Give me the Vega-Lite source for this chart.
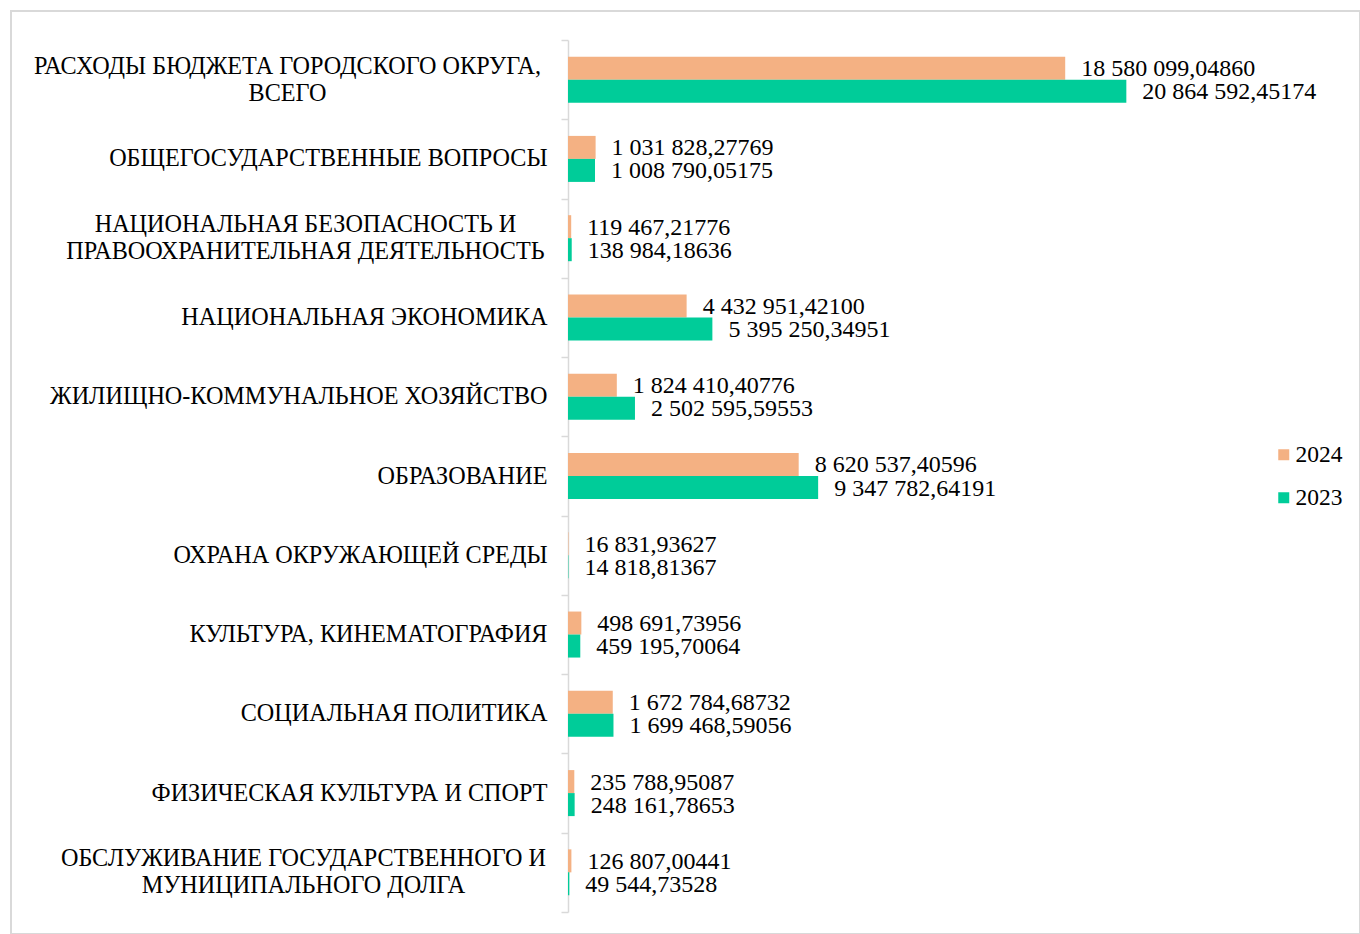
{
  "$schema": "https://vega.github.io/schema/vega-lite/v6.json",
  "width": 1349,
  "height": 923,
  "autosize": {"type": "none"},
  "padding": {"left": 11, "top": 11, "right": 0, "bottom": 0},
  "background": "#ffffff",
  "config": {
    "view": {"stroke": "#d9d9d9", "strokeWidth": 2},
    "locale": {"number": {"decimal": ",", "thousands": " ", "grouping": [3], "currency": ["", ""]}},
    "font": "Liberation Serif"
  },
  "data": {
    "values": [
      {"category": "РАСХОДЫ БЮДЖЕТА ГОРОДСКОГО ОКРУГА,|ВСЕГО", "year": "2024", "value": 18580099.04860},
      {"category": "РАСХОДЫ БЮДЖЕТА ГОРОДСКОГО ОКРУГА,|ВСЕГО", "year": "2023", "value": 20864592.45174},
      {"category": "ОБЩЕГОСУДАРСТВЕННЫЕ ВОПРОСЫ", "year": "2024", "value": 1031828.27769},
      {"category": "ОБЩЕГОСУДАРСТВЕННЫЕ ВОПРОСЫ", "year": "2023", "value": 1008790.05175},
      {"category": "НАЦИОНАЛЬНАЯ БЕЗОПАСНОСТЬ И|ПРАВООХРАНИТЕЛЬНАЯ ДЕЯТЕЛЬНОСТЬ", "year": "2024", "value": 119467.21776},
      {"category": "НАЦИОНАЛЬНАЯ БЕЗОПАСНОСТЬ И|ПРАВООХРАНИТЕЛЬНАЯ ДЕЯТЕЛЬНОСТЬ", "year": "2023", "value": 138984.18636},
      {"category": "НАЦИОНАЛЬНАЯ ЭКОНОМИКА", "year": "2024", "value": 4432951.42100},
      {"category": "НАЦИОНАЛЬНАЯ ЭКОНОМИКА", "year": "2023", "value": 5395250.34951},
      {"category": "ЖИЛИЩНО-КОММУНАЛЬНОЕ ХОЗЯЙСТВО", "year": "2024", "value": 1824410.40776},
      {"category": "ЖИЛИЩНО-КОММУНАЛЬНОЕ ХОЗЯЙСТВО", "year": "2023", "value": 2502595.59553},
      {"category": "ОБРАЗОВАНИЕ", "year": "2024", "value": 8620537.40596},
      {"category": "ОБРАЗОВАНИЕ", "year": "2023", "value": 9347782.64191},
      {"category": "ОХРАНА ОКРУЖАЮЩЕЙ СРЕДЫ", "year": "2024", "value": 16831.93627},
      {"category": "ОХРАНА ОКРУЖАЮЩЕЙ СРЕДЫ", "year": "2023", "value": 14818.81367},
      {"category": "КУЛЬТУРА, КИНЕМАТОГРАФИЯ", "year": "2024", "value": 498691.73956},
      {"category": "КУЛЬТУРА, КИНЕМАТОГРАФИЯ", "year": "2023", "value": 459195.70064},
      {"category": "СОЦИАЛЬНАЯ ПОЛИТИКА", "year": "2024", "value": 1672784.68732},
      {"category": "СОЦИАЛЬНАЯ ПОЛИТИКА", "year": "2023", "value": 1699468.59056},
      {"category": "ФИЗИЧЕСКАЯ КУЛЬТУРА И СПОРТ", "year": "2024", "value": 235788.95087},
      {"category": "ФИЗИЧЕСКАЯ КУЛЬТУРА И СПОРТ", "year": "2023", "value": 248161.78653},
      {"category": "ОБСЛУЖИВАНИЕ ГОСУДАРСТВЕННОГО И|МУНИЦИПАЛЬНОГО ДОЛГА", "year": "2024", "value": 126807.00441},
      {"category": "ОБСЛУЖИВАНИЕ ГОСУДАРСТВЕННОГО И|МУНИЦИПАЛЬНОГО ДОЛГА", "year": "2023", "value": 49544.73528}
    ]
  },
  "encoding": {
    "y": {
      "field": "category",
      "type": "nominal",
      "sort": null,
      "scale": {"range": [29, 901], "paddingInner": 0, "paddingOuter": 0},
      "axis": {
        "title": null,
        "offset": -557,
        "domainColor": "#d9d9d9",
        "domainWidth": 1.5,
        "tickColor": "#d9d9d9",
        "tickWidth": 1.5,
        "tickSize": 7,
        "tickBand": "extent",
        "labelFont": "Liberation Serif",
        "labelFontSize": 24.2,
        "labelColor": "#000000",
        "labelLimit": 0,
        "labelLineHeight": 27,
        "labelBaseline": "middle",
        "labelExpr": "isString(datum.value) ? split(datum.value, '|') : ''",
        "labelAlign": {
          "condition": {"test": "isString(datum.value) && indexof(datum.value, '|') >= 0", "value": "center"},
          "value": "right"
        },
        "labelOffset": {
          "condition": {"test": "isString(datum.value) && indexof(datum.value, '|') >= 0", "value": -13.5},
          "value": 0
        },
        "labelPadding": {"expr": "isString(datum.value) && indexof(datum.value, 'РАСХОДЫ') >= 0 ? 274 : isString(datum.value) && indexof(datum.value, 'БЕЗОПАСНОСТЬ') >= 0 ? 256 : isString(datum.value) && indexof(datum.value, 'ОБСЛУЖИВАНИЕ') >= 0 ? 258 : 14"}
      }
    },
    "yOffset": {
      "field": "year",
      "type": "nominal",
      "scale": {"domain": ["2024", "2023"], "paddingInner": 0, "paddingOuter": 0.723}
    },
    "x": {
      "field": "value",
      "type": "quantitative",
      "scale": {"domain": [0, 25000000], "range": [557, 1226], "nice": false},
      "axis": null
    }
  },
  "layer": [
    {
      "mark": {"type": "bar"},
      "encoding": {
        "color": {
          "field": "year",
          "type": "nominal",
          "scale": {"domain": ["2024", "2023"], "range": ["#F4B183", "#00CC99"]},
          "legend": {
            "title": null,
            "orient": "none",
            "legendX": 1261,
            "legendY": 432,
            "padding": 0,
            "symbolType": "square",
            "symbolSize": 121,
            "symbolStrokeWidth": 0,
            "labelFont": "Liberation Serif",
            "labelFontSize": 23.5,
            "labelColor": "#000000",
            "labelOffset": 0,
            "rowPadding": 18
          }
        }
      }
    },
    {
      "mark": {"type": "text", "align": "left", "baseline": "middle", "dx": 16, "dy": 1, "font": "Liberation Serif", "fontSize": 24, "color": "#000000"},
      "encoding": {
        "text": {"field": "value", "type": "quantitative", "format": ",.5f"}
      }
    }
  ]
}
